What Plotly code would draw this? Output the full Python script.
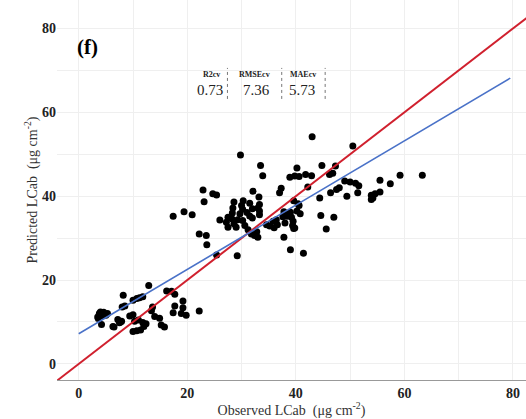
import plotly.graph_objects as go

# Observed vs predicted LCab (µg cm-2)
observed = [
    3.5, 3.8, 4.2, 4.6, 5.0, 5.3, 3.6, 4.0, 4.2, 6.3, 7.2, 7.9, 7.5, 8.0, 8.5, 8.2,
    9.4, 10.0, 10.0, 10.7, 11.2, 11.8, 10.3, 11.0, 11.8, 10.0, 10.7, 11.4, 12.0, 12.4,
    12.9, 13.4, 13.6, 14.0, 14.9, 15.2, 15.8, 16.2, 17.1, 17.7, 17.4, 17.7, 19.2, 18.9,
    19.2, 19.8, 22.2, 6.5, 7.7,
    17.4, 19.4, 20.9, 22.9, 24.7, 25.4, 23.1, 22.2, 23.5, 23.6, 25.4, 29.2,
    26.0, 27.2, 27.5, 28.2, 28.6, 29.3, 27.5, 29.0, 30.2, 30.6,
    28.4, 28.6, 30.0, 30.3, 30.2, 28.3, 29.7, 31.0, 31.5, 32.0,
    32.1, 33.2, 33.3, 33.0, 33.3, 31.5, 33.3, 32.0,
    31.2, 31.8, 32.4, 32.8, 33.0,
    34.6, 35.2, 36.0, 36.6, 35.8, 36.4,
    29.8, 33.5, 33.9, 37.0, 37.3, 37.8, 39.0, 41.4,
    37.6, 38.4, 39.2, 39.0, 40.2, 40.8, 39.5, 39.8, 39.4, 38.0, 37.8,
    40.6, 40.4, 39.6,
    43.0, 50.5, 40.2, 44.8, 47.3,
    38.9, 39.8, 40.6, 41.8, 42.9, 46.2, 46.8,
    42.2, 44.4, 46.4, 47.5, 48.0,
    49.0, 50.0, 51.0, 51.6, 51.4, 49.4,
    53.9, 54.2, 53.9, 54.6, 55.5, 55.5,
    57.4, 59.2, 63.3,
    44.6, 47.0, 45.6, 39.6,
]
predicted = [
    11.2, 12.0, 11.5, 12.3, 11.6, 12.0, 10.8, 12.4, 9.4, 8.9, 10.6, 10.2, 9.8, 13.6, 13.8, 16.4,
    11.4, 11.7, 15.2, 15.6, 15.8, 16.0, 10.2, 10.5, 9.9, 7.7, 7.9, 8.1, 8.9, 9.6,
    18.7, 12.7, 13.6, 11.3, 10.9, 9.3, 8.8, 17.4, 17.3, 16.6, 12.2, 13.8, 15.0, 12.0,
    13.4, 11.6, 12.6, 8.8, 10.0,
    35.2, 36.3, 35.6, 41.5, 40.6, 40.3, 38.7, 31.0, 30.6, 28.4, 26.0, 25.8,
    34.3, 33.8, 35.0, 34.6, 33.4, 34.4, 32.6, 32.6, 34.2, 33.0,
    37.2, 38.6, 37.8, 38.9, 36.9, 36.0, 35.8, 36.1, 38.3, 37.0,
    41.2, 39.8, 38.0, 37.2, 36.5, 35.3, 35.6, 34.8,
    32.0, 31.0, 30.6, 31.5, 30.2,
    33.2, 32.9, 32.5, 33.2, 34.0, 34.4,
    49.8, 47.3, 44.9, 40.8, 41.9, 30.2, 27.2, 26.4,
    35.1, 35.2, 35.0, 36.2, 36.5, 35.8, 34.0, 32.4, 33.0, 33.6, 36.3,
    37.8, 38.2, 38.9,
    54.2, 52.0, 46.7, 47.3, 47.2,
    44.5, 44.8, 44.7, 45.2, 44.9, 45.2, 45.5,
    42.2, 39.6, 40.8, 41.6, 42.0,
    43.6, 43.4, 43.1, 42.5, 40.8, 40.0,
    40.2, 39.6, 39.2, 40.6, 43.8, 41.0,
    43.0, 45.0, 45.0,
    35.4, 35.0, 32.2, 32.3,
]

# Fitted regression line (blue) and 1:1 line (red)
fit_intercept = 7.2
fit_slope = 0.767
fit_x = [0, 79.5]
fit_y = [fit_intercept + fit_slope * v for v in fit_x]
one_to_one = [-4, 95]

metric_names = ["R2cv", "RMSEcv", "MAEcv"]
metric_values = ["0.73", "7.36", "5.73"]
panel_label = "(f)"
tick_values = [0, 20, 40, 60, 80]
minor_values = [10, 30, 50, 70]

x_range = [-4.0, 82.4]
y_range = [-3.84, 86.8]

serif = "Liberation Serif"
grid_col = "#efefef"

fig = go.Figure()
fig.add_trace(go.Scatter(
    x=observed, y=predicted, mode="markers",
    marker=dict(color="black", size=7), showlegend=False, hoverinfo="skip",
))
fig.add_trace(go.Scatter(
    x=one_to_one, y=one_to_one, mode="lines",
    line=dict(color="#d0202e", width=2), showlegend=False,
))
fig.add_trace(go.Scatter(
    x=fit_x, y=fit_y, mode="lines",
    line=dict(color="#4a72c8", width=1.6), showlegend=False,
))

# metrics table
header_x = [24.5, 32.4, 41.4]
value_x = [24.1, 32.8, 41.1]
for name, hx in zip(metric_names, header_x):
    fig.add_annotation(x=hx, y=69.0, text="<b>" + name + "</b>", showarrow=False,
                       font=dict(family=serif, size=8, color="#222"))
for val, vx in zip(metric_values, value_x):
    fig.add_annotation(x=vx, y=65.3, text=val, showarrow=False,
                       font=dict(family=serif, size=15, color="#222"))
for sx in [27.4, 37.4, 45.4]:
    fig.add_shape(type="line", x0=sx, x1=sx, y0=63.2, y1=70.6,
                  line=dict(color="#777", width=1, dash="dot"))

fig.add_annotation(x=1.7, y=75.7, text="<b>" + panel_label + "</b>", showarrow=False,
                   font=dict(family=serif, size=21, color="black"))

fig.update_layout(
    width=526, height=419,
    margin=dict(l=57, r=0, t=0, b=39),
    paper_bgcolor="white", plot_bgcolor="white",
    font=dict(family=serif, color="#333"),
)
fig.update_xaxes(
    range=x_range, tickvals=tick_values, zeroline=False,
    showgrid=True, gridcolor=grid_col, gridwidth=1,
    minor=dict(tickvals=minor_values, showgrid=True, gridcolor=grid_col),
    showline=True, linecolor="#999", linewidth=1,
    ticks="", tickfont=dict(family=serif, size=14, color="#222", weight="bold"),
    title=dict(text="Observed LCab  (μg cm<sup>-2</sup>)", font=dict(family=serif, size=14, color="#333"),
               standoff=3),
)
fig.update_yaxes(
    range=y_range, tickvals=tick_values, zeroline=False,
    showgrid=True, gridcolor=grid_col, gridwidth=1,
    minor=dict(tickvals=minor_values, showgrid=True, gridcolor=grid_col),
    showline=False, ticks="",
    tickfont=dict(family=serif, size=14, color="#222", weight="bold"),
    title=dict(text="Predicted LCab  (μg cm<sup>-2</sup>)", font=dict(family=serif, size=14, color="#333"),
               standoff=1),
)

fig.write_html("out.html", config={"displayModeBar": False},
               post_script="document.body.style.margin='0';document.body.style.overflow='hidden';")
